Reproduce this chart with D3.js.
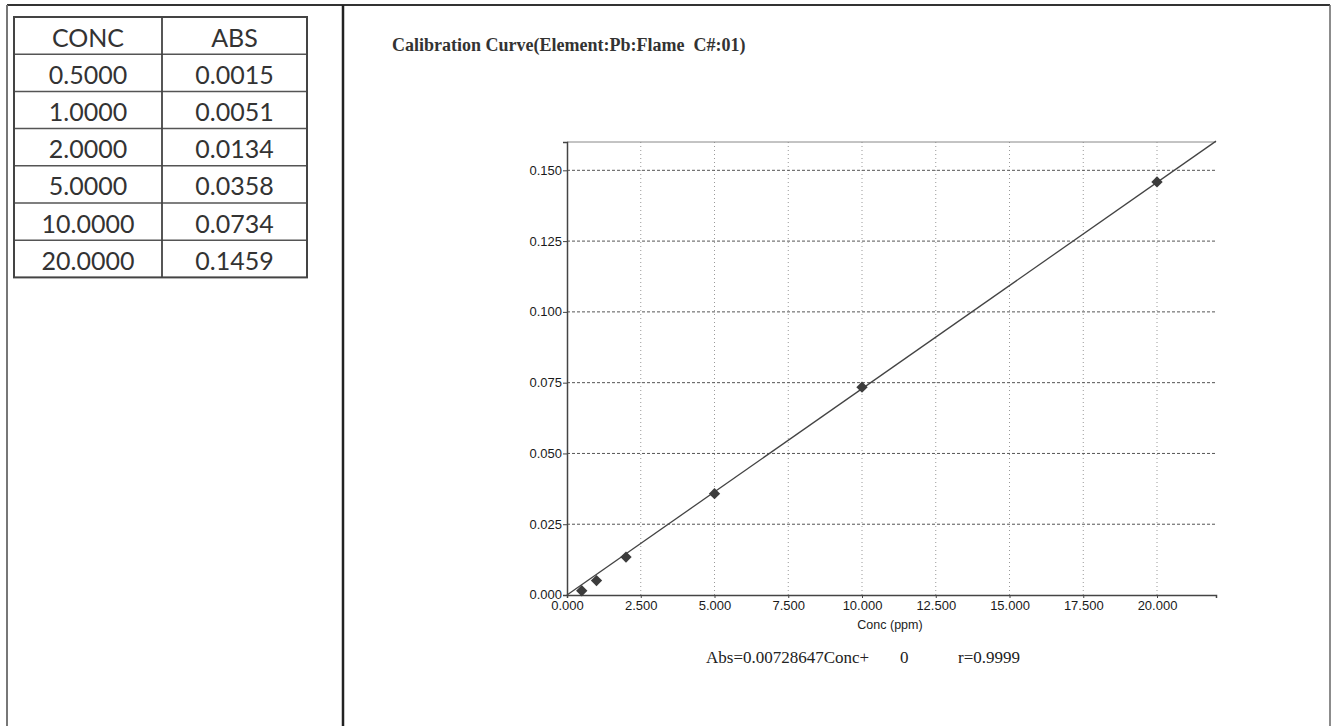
<!DOCTYPE html>
<html>
<head>
<meta charset="utf-8">
<script src="https://cdn.jsdelivr.net/npm/d3@7"></script>
<style>
  body { margin: 0; background: #fff; }
  svg { display: block; }
</style>
</head>
<body>
<svg id="chart" width="1332" height="726"></svg>
<script>
// Calibration standards for Pb (flame AAS)
const conc = [0.5, 1, 2, 5, 10, 20];
const absorbance = [0.0015, 0.0051, 0.0134, 0.0358, 0.0734, 0.1459];
const concLabels = ["0.5000", "1.0000", "2.0000", "5.0000", "10.0000", "20.0000"];
const absLabels = ["0.0015", "0.0051", "0.0134", "0.0358", "0.0734", "0.1459"];
const tableHeaders = ["CONC", "ABS"];

// Axis ticks
const xTicks = [0, 2.5, 5, 7.5, 10, 12.5, 15, 17.5, 20];
const yTicks = [0, 0.025, 0.05, 0.075, 0.1, 0.125, 0.15];
const xDomain = [0, 22];
const yDomain = [0, 0.16];

// Fit result
const slope = 0.00728647;
const intercept = 0;
const rValue = "0.9999";

const titleText = "Calibration Curve(Element:Pb:Flame  C#:01)";
const xAxisLabel = "Conc (ppm)";

const svg = d3.select("#chart");

// ---- page frame ----
const frame = svg.append("g");
frame.append("line").attr("x1", 7).attr("x2", 1330).attr("y1", 5).attr("y2", 5)
  .attr("stroke", "#333").attr("stroke-width", 2.2);
frame.append("line").attr("x1", 7).attr("x2", 7).attr("y1", 5).attr("y2", 726)
  .attr("stroke", "#777").attr("stroke-width", 2);
frame.append("line").attr("x1", 343).attr("x2", 343).attr("y1", 5).attr("y2", 726)
  .attr("stroke", "#222").attr("stroke-width", 2.5);
frame.append("line").attr("x1", 1330).attr("x2", 1330).attr("y1", 5).attr("y2", 726)
  .attr("stroke", "#666").attr("stroke-width", 1.5);

// ---- data table ----
const table = svg.append("g");
const colEdges = [14, 162, 307];
const rowTop = 17, rowH = 37.2;
const rows = [tableHeaders].concat(conc.map((_, i) => [concLabels[i], absLabels[i]]));
const tableBottom = rowTop + rows.length * rowH;

rows.forEach((r, i) => {
  r.forEach((txt, j) => {
    table.append("text")
      .attr("x", (colEdges[j] + colEdges[j + 1]) / 2)
      .attr("y", rowTop + i * rowH + rowH / 2 + 1)
      .attr("text-anchor", "middle")
      .attr("dominant-baseline", "central")
      .attr("font-family", "Lato, 'Open Sans', sans-serif")
      .attr("font-size", 25)
      .attr("fill", "#333")
      .text(txt);
  });
});
for (let i = 1; i < rows.length; i++) {
  table.append("line")
    .attr("x1", colEdges[0]).attr("x2", colEdges[2])
    .attr("y1", rowTop + i * rowH).attr("y2", rowTop + i * rowH)
    .attr("stroke", "#555").attr("stroke-width", 1.5);
}
table.append("rect")
  .attr("x", colEdges[0]).attr("y", rowTop)
  .attr("width", colEdges[2] - colEdges[0]).attr("height", tableBottom - rowTop)
  .attr("fill", "none").attr("stroke", "#444").attr("stroke-width", 2);
table.append("line")
  .attr("x1", colEdges[1]).attr("x2", colEdges[1])
  .attr("y1", rowTop).attr("y2", tableBottom)
  .attr("stroke", "#444").attr("stroke-width", 1.8);

// ---- calibration plot ----
const plot = { left: 567, right: 1216, top: 142, bottom: 595 };
const x = d3.scaleLinear().domain(xDomain).range([plot.left, plot.right]);
const y = d3.scaleLinear().domain(yDomain).range([plot.bottom, plot.top]);

svg.append("text")
  .attr("x", 392).attr("y", 51)
  .attr("font-family", "'Liberation Serif', 'Times New Roman', serif")
  .attr("font-weight", "bold")
  .attr("font-size", 18)
  .attr("fill", "#333")
  .style("white-space", "pre")
  .text(titleText);

const grid = svg.append("g");
// vertical dotted grid
grid.selectAll("line.vg").data(xTicks.filter(d => d > 0)).join("line")
  .attr("class", "vg")
  .attr("x1", d => x(d)).attr("x2", d => x(d))
  .attr("y1", plot.top).attr("y2", plot.bottom)
  .attr("stroke", "#999").attr("stroke-width", 1)
  .attr("stroke-dasharray", "1,3");
// horizontal dashed grid
grid.selectAll("line.hg").data(yTicks.filter(d => d > 0)).join("line")
  .attr("class", "hg")
  .attr("x1", plot.left).attr("x2", plot.right)
  .attr("y1", d => y(d)).attr("y2", d => y(d))
  .attr("stroke", "#555").attr("stroke-width", 1)
  .attr("stroke-dasharray", "3,2");
// top border of the plot area
grid.append("line")
  .attr("x1", plot.left).attr("x2", plot.right)
  .attr("y1", plot.top).attr("y2", plot.top)
  .attr("stroke", "#888").attr("stroke-width", 1);

const tickFmt = d3.format(".3f");
const xAxis = svg.append("g")
  .attr("transform", `translate(0,${plot.bottom})`)
  .call(d3.axisBottom(x).tickValues(xTicks).tickFormat(tickFmt).tickSize(3).tickPadding(3));
const yAxis = svg.append("g")
  .attr("transform", `translate(${plot.left},0)`)
  .call(d3.axisLeft(y).tickValues(yTicks).tickFormat(tickFmt).tickSize(4).tickPadding(1));

[xAxis, yAxis].forEach(ax => {
  ax.select(".domain").attr("stroke", "#444").attr("stroke-width", 1.5);
  ax.selectAll(".tick line").attr("stroke", "#444");
  ax.selectAll(".tick text")
    .attr("font-family", "'Liberation Sans', Arial, sans-serif")
    .attr("font-size", 13)
    .attr("fill", "#1a1a1a");
});
yAxis.selectAll(".tick text").attr("dy", "0.3em");

svg.append("text")
  .attr("x", 890).attr("y", 629)
  .attr("text-anchor", "middle")
  .attr("font-family", "'Liberation Sans', Arial, sans-serif")
  .attr("font-size", 12.5)
  .attr("fill", "#222")
  .text(xAxisLabel);

// fitted line across the full x range
const fit = d => slope * d + intercept;
svg.append("path")
  .datum(xDomain)
  .attr("d", d3.line().x(d => x(d)).y(d => y(fit(d))))
  .attr("fill", "none")
  .attr("stroke", "#444")
  .attr("stroke-width", 1.3);

// standards as diamonds
svg.selectAll("path.pt").data(conc).join("path")
  .attr("class", "pt")
  .attr("d", d3.symbol().type(d3.symbolSquare).size(64))
  .attr("transform", (d, i) => `translate(${x(d)},${y(absorbance[i])}) rotate(45)`)
  .attr("fill", "#3c3c3c");

// fit equation
const eq = svg.append("text")
  .attr("y", 663)
  .attr("font-family", "'Liberation Serif', 'Times New Roman', serif")
  .attr("font-size", 17)
  .attr("fill", "#222");
eq.append("tspan").attr("x", 706).text(`Abs=${slope}Conc+`);
eq.append("tspan").attr("x", 900).text(`${intercept}`);
eq.append("tspan").attr("x", 958).text(`r=${rValue}`);
</script>
</body>
</html>
